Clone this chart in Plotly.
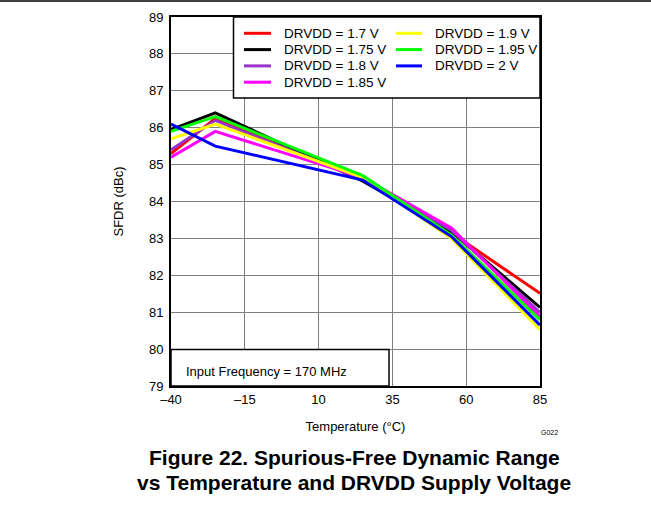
import plotly.graph_objects as go

# ---- data ----
temperature = [-40, -25, 25, 55, 85]
series_names = ["DRVDD = 1.7 V", "DRVDD = 1.75 V", "DRVDD = 1.8 V", "DRVDD = 1.85 V",
                "DRVDD = 1.9 V", "DRVDD = 1.95 V", "DRVDD = 2 V"]
sfdr_17 = [85.30, 86.25, 84.60, 83.15, 81.51]
sfdr_175 = [85.95, 86.40, 84.55, 83.18, 81.13]
sfdr_18 = [85.40, 86.20, 84.60, 83.22, 80.99]
sfdr_185 = [85.20, 85.90, 84.65, 83.28, 80.88]
sfdr_19 = [85.70, 86.10, 84.65, 83.00, 80.52]
sfdr_195 = [85.90, 86.30, 84.70, 83.09, 80.79]
sfdr_20 = [86.10, 85.50, 84.58, 83.05, 80.65]
series_values = [sfdr_17, sfdr_175, sfdr_18, sfdr_185, sfdr_19, sfdr_195, sfdr_20]
colors = ["#FF0000", "#000000", "#9933CC", "#FF00FF", "#FFFF00", "#00FF00", "#0000FF"]

x_ticks = [-40, -15, 10, 35, 60, 85]
x_ticktext = ["\u201340", "\u201315", "10", "35", "60", "85"]
y_ticks = list(range(79, 90))

FONT = "Arial, Liberation Sans, sans-serif"

# plot area in pixels
L, R, T, B = 171, 540, 17, 386
W, H = 651, 506
PW, PH = R - L, B - T


def px(xp):
    return (xp - L) / PW


def py(yp):
    return (B - yp) / PH


fig = go.Figure()
for name, vals, col in zip(series_names, series_values, colors):
    fig.add_trace(go.Scatter(x=temperature, y=vals, mode="lines", name=name,
                             line=dict(color=col, width=3), showlegend=False))

shapes = []
annotations = []

# top rule across page
shapes.append(dict(type="line", xref="paper", yref="paper", x0=px(0), x1=px(W),
                   y0=py(1), y1=py(1), line=dict(color="black", width=1.5)))

# input frequency box
shapes.append(dict(type="rect", xref="paper", yref="paper", x0=0, x1=px(389),
                   y0=0, y1=py(349.5), fillcolor="white",
                   line=dict(color="black", width=1.5), layer="above"))
annotations.append(dict(text="Input Frequency = 170 MHz", xref="paper", yref="paper",
                        x=px(184), y=py(371.5), xanchor="left", yanchor="middle",
                        showarrow=False, font=dict(family=FONT, size=13, color="black")))

# legend (manual, two columns)
shapes.append(dict(type="rect", xref="paper", yref="paper", x0=px(233.5), x1=1,
                   y0=py(98), y1=1, fillcolor="white",
                   line=dict(color="black", width=1.5), layer="above"))
row_y = [33.3, 49.6, 65.9, 82.2]
col_line = [(244, 271, 282), (396, 422, 433)]
for i, (name, col) in enumerate(zip(series_names, colors)):
    c = 0 if i < 4 else 1
    r = i if i < 4 else i - 4
    x0, x1, xt = col_line[c]
    yy = row_y[r]
    shapes.append(dict(type="line", xref="paper", yref="paper", x0=px(x0), x1=px(x1),
                       y0=py(yy), y1=py(yy), line=dict(color=col, width=3), layer="above"))
    annotations.append(dict(text=name, xref="paper", yref="paper", x=px(xt), y=py(yy),
                            xanchor="left", yanchor="middle", showarrow=False,
                            font=dict(family=FONT, size=13.5, color="black")))

# G022 tag
annotations.append(dict(text="G022", xref="paper", yref="paper", x=px(549), y=py(432),
                        xanchor="center", yanchor="middle", showarrow=False,
                        font=dict(family=FONT, size=7, color="black")))

# figure caption
annotations.append(dict(text="<b>Figure 22. Spurious-Free Dynamic Range</b>", xref="paper",
                        yref="paper", x=px(354), y=py(457), xanchor="center", yanchor="middle",
                        showarrow=False, font=dict(family=FONT, size=21, color="black")))
annotations.append(dict(text="<b>vs Temperature and DRVDD Supply Voltage</b>", xref="paper",
                        yref="paper", x=px(354), y=py(482), xanchor="center", yanchor="middle",
                        showarrow=False, font=dict(family=FONT, size=21, color="black")))

fig.update_layout(
    width=W, height=H,
    margin=dict(l=L, r=W - R, t=T, b=H - B, autoexpand=False),
    paper_bgcolor="white", plot_bgcolor="white",
    font=dict(family=FONT, size=13, color="black"),
    showlegend=False,
    shapes=shapes, annotations=annotations,
    xaxis=dict(range=[-40, 85], tickvals=x_ticks, ticktext=x_ticktext,
               showgrid=True, gridcolor="#7f7f7f", gridwidth=1,
               showline=True, linecolor="black", linewidth=2, mirror=True,
               ticks="", ticklabelstandoff=0, zeroline=False,
               title=dict(text="Temperature (\u00b0C)", standoff=16,
                          font=dict(family=FONT, size=13))),
    yaxis=dict(range=[79, 89], tickvals=y_ticks, showgrid=True, gridcolor="#7f7f7f",
               gridwidth=1, showline=True, linecolor="black", linewidth=2, mirror=True,
               ticks="", ticklabelstandoff=3, zeroline=False,
               title=dict(text="SFDR (dBc)", standoff=22,
                          font=dict(family=FONT, size=13))),
)

fig.write_html("out.html", config={"displayModeBar": False},
               post_script="document.body.style.margin='0';document.body.style.padding='0';")
